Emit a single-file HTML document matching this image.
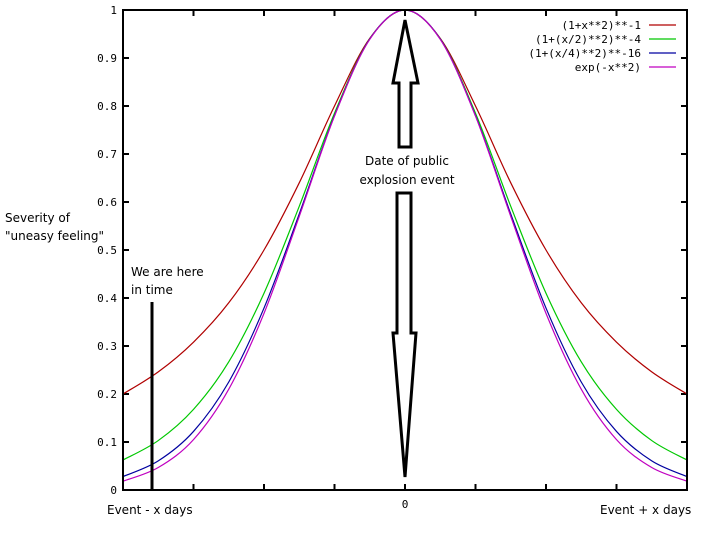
<!DOCTYPE html>
<html><head><meta charset="utf-8"><style>
body{margin:0;background:#fff;}
svg{display:block;}
.m{font-family:"DejaVu Sans Mono","Liberation Mono",monospace;font-size:11px;}
.s{font-family:"DejaVu Sans","Liberation Sans",sans-serif;font-size:12px;}
</style></head><body>
<svg width="721" height="549" xmlns="http://www.w3.org/2000/svg">
<g id="plot"></g>
<rect x="123" y="10" width="564" height="480" fill="none" stroke="#000" stroke-width="2"/>
<text class="s" x="5" y="222">Severity of</text>
<text class="s" x="5" y="240">"uneasy feeling"</text>
<text class="s" x="107" y="514">Event - x days</text>
<text class="s" x="600" y="514">Event + x days</text>
<text class="m" x="405" y="508" text-anchor="middle">0</text>
<text class="s" x="131" y="276">We are here</text>
<text class="s" x="131" y="294">in time</text>
<line x1="152" y1="302" x2="152" y2="490" stroke="#000" stroke-width="3"/>
<text class="s" x="407" y="165" text-anchor="middle">Date of public</text>
<text class="s" x="407" y="184" text-anchor="middle">explosion event</text>
<polygon points="405,20 418,83 411,83 411,147 399,147 399,83 393,83" fill="#fff" stroke="#000" stroke-width="3"/>
<polygon points="397,193 411,193 411,333 416,333 405,477 393,333 397,333" fill="#fff" stroke="#000" stroke-width="3"/>
<g id="legend"></g>
</svg>
<script>
const xs=[-2,-1.75,-1.5,-1.25,-1,-0.75,-0.5,-0.25,0,0.25,0.5,0.75,1,1.25,1.5,1.75,2];
const red=[0.2,0.246,0.308,0.39,0.5,0.64,0.8,0.941,1,0.941,0.8,0.64,0.5,0.39,0.308,0.246,0.2];
const green=[0.0625,0.103,0.168,0.267,0.41,0.591,0.785,0.94,1,0.94,0.785,0.591,0.41,0.267,0.168,0.103,0.0625];
const blue=[0.028,0.0607,0.122,0.225,0.379,0.575,0.78,0.9395,1,0.9395,0.78,0.575,0.379,0.225,0.122,0.0607,0.028];
const magenta=[0.0183,0.0468,0.105,0.21,0.368,0.57,0.779,0.939,1,0.939,0.779,0.57,0.368,0.21,0.105,0.0468,0.0183];
const seriesNames=["(1+x**2)**-1","(1+(x/2)**2)**-4","(1+(x/4)**2)**-16","exp(-x**2)"];
const yTicks=[0,0.1,0.2,0.3,0.4,0.5,0.6,0.7,0.8,0.9,1];
const yTickLabels=["0","0.1","0.2","0.3","0.4","0.5","0.6","0.7","0.8","0.9","1"];
const xTicks=[-2,-1.5,-1,-0.5,0,0.5,1,1.5,2];
const NS="http://www.w3.org/2000/svg";
const X=v=>123+(v+2)/4*564, Y=v=>490-v*480;
const plot=document.getElementById('plot');
function mk(t,a,p){const e=document.createElementNS(NS,t);for(const k in a)e.setAttribute(k,a[k]);(p||plot).appendChild(e);return e;}
yTicks.forEach((v,i)=>{
 let l=mk('line',{x1:123,x2:129,y1:Y(v),y2:Y(v),stroke:'#000','stroke-width':2});
 
 
 let r=mk('line',{x1:681,x2:687,y1:Y(v),y2:Y(v),stroke:'#000','stroke-width':2});
 
 
 let t=mk('text',{x:117,y:Y(v)+4,'text-anchor':'end',class:'m'});t.textContent=yTickLabels[i];
 
 
});
xTicks.forEach(v=>{
 let l=mk('line',{x1:X(v),x2:X(v),y1:484,y2:490,stroke:'#000','stroke-width':2});
 
 
 let u=mk('line',{x1:X(v),x2:X(v),y1:10,y2:16,stroke:'#000','stroke-width':2});
 
 
});
function path(vals){
 const p=xs.map((x,i)=>[X(x),Y(vals[i])]);
 let d='M'+p[0][0]+','+p[0][1];
 for(let i=0;i<p.length-1;i++){
  const p0=p[i-1]||p[i],p1=p[i],p2=p[i+1],p3=p[i+2]||p[i+1];
  d+=' C'+(p1[0]+(p2[0]-p0[0])/6)+','+(p1[1]+(p2[1]-p0[1])/6)+' '+(p2[0]-(p3[0]-p1[0])/6)+','+(p2[1]-(p3[1]-p1[1])/6)+' '+p2[0]+','+p2[1];
 }
 return d;
}
const all=[red,green,blue,magenta],cols=['#b00000','#00c800','#0000a0','#c000c0'],names=['series-red','series-green','series-blue','series-magenta'];
all.forEach((s,i)=>{
 let e=mk('path',{d:path(s),fill:'none',stroke:cols[i],'stroke-width':1.2});
 
 
});
const lg=document.getElementById('legend');
seriesNames.forEach((n,i)=>{
 const y=25+i*14;
 let t=mk('text',{x:641,y:y+4,'text-anchor':'end',class:'m'},lg);t.textContent=n;
 
 
 let l=mk('line',{x1:649,x2:676,y1:y,y2:y,stroke:cols[i],'stroke-width':1.2},lg);
 
 
});
</script>
</body></html>
